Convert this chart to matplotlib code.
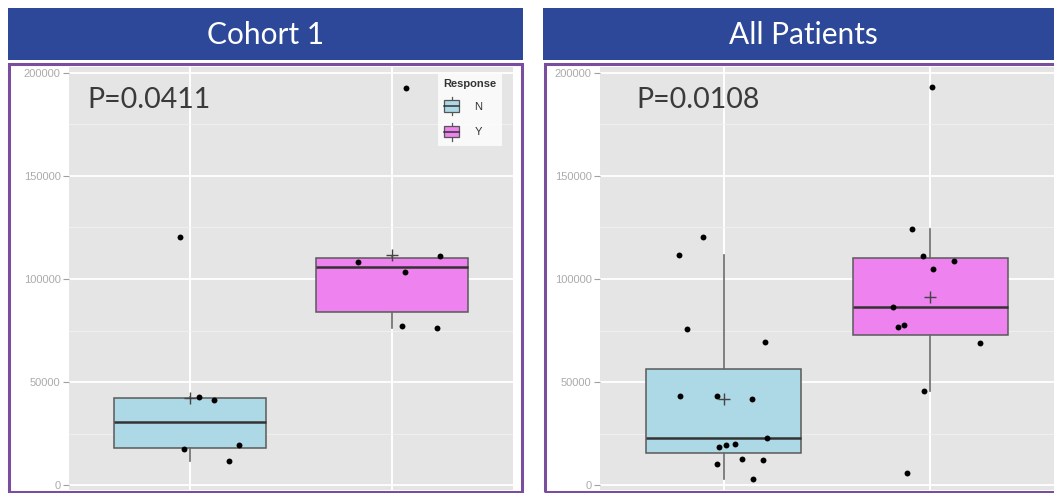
import matplotlib
matplotlib.use("Agg")
import matplotlib.pyplot as plt
import numpy as np
from matplotlib.patches import Rectangle
from matplotlib.lines import Line2D
from matplotlib.legend_handler import HandlerBase

# ---------------- data ----------------
groups = ["N", "Y"]
panel_titles = ["Cohort 1", "All Patients"]
p_values = ["P=0.0411", "P=0.0108"]
legend_title = "Response"
y_ticks = [0, 50000, 100000, 150000, 200000]

c1_N = [120400, 42950, 41500, 17430, 19520, 11620]
c1_N_jit = [-0.05, 0.045, 0.12, -0.03, 0.24, 0.195]
c1_Y = [192600, 111050, 108470, 103480, 77480, 76370]
c1_Y_jit = [0.07, 0.24, -0.17, 0.067, 0.05, 0.223]

all_N = [111800, 120500, 75650, 69700, 43560, 43560, 41770, 23080,
         18390, 19360, 20180, 12580, 12100, 10160, 3240]
all_N_jit = [-0.215, -0.103, -0.178, 0.199, -0.21, -0.032, 0.136, 0.21,
             -0.021, 0.011, 0.053, 0.086, 0.192, -0.034, 0.142]
all_Y = [192780, 124050, 111000, 108900, 104700, 86640, 76800, 77760,
         69200, 45980, 6150]
all_Y_jit = [0.008, -0.086, -0.034, 0.114, 0.015, -0.179, -0.155, -0.129,
             0.24, -0.031, -0.111]

box_colors = ["#ADD8E6", "#EE82EE"]
bar_color = "#2D4899"
frame_color = "#7A4E9E"
panel_bg = "#E5E5E5"

# ---------------- layout ----------------
W, H = 1054, 493
fig = plt.figure(figsize=(W / 100, H / 100), dpi=100)
fig.patch.set_facecolor("white")


def fx(px):
    return px / W


def fy(py):
    return 1 - py / H


def fig_rect(x0, y0, x1, y1, **kw):
    r = Rectangle((fx(x0), fy(y1)), fx(x1) - fx(x0), fy(y0) - fy(y1),
                  transform=fig.transFigure, **kw)
    fig.patches.append(r)


# title bars
fig_rect(8, 8, 523, 60, facecolor=bar_color, edgecolor="none")
fig_rect(543, 8, 1060, 60, facecolor=bar_color, edgecolor="none")
fig.text(fx(266), fy(35), panel_titles[0], color="white", fontsize=21.5,
         family="Lato", ha="center", va="center")
fig.text(fx(803), fy(35), panel_titles[1], color="white", fontsize=21.5,
         family="Lato", ha="center", va="center")


class BoxKeyHandler(HandlerBase):
    def create_artists(self, legend, orig_handle, xdescent, ydescent,
                       width, height, fontsize, trans):
        x0, y0 = -xdescent, -ydescent
        fc = orig_handle.get_facecolor()
        bw = width * 0.95
        bx = x0 + (width - bw) / 2
        by = y0 + height * 0.18
        bh = height * 0.64
        box = Rectangle((bx, by), bw, bh, facecolor=fc, edgecolor="#555555",
                        lw=0.9, transform=trans)
        cx = x0 + width / 2
        med = Line2D([bx, bx + bw], [by + bh / 2, by + bh / 2],
                     color="#333333", lw=1.1, transform=trans)
        w1 = Line2D([cx, cx], [y0, by], color="#555555", lw=0.9,
                    transform=trans)
        w2 = Line2D([cx, cx], [by + bh, y0 + height], color="#555555",
                    lw=0.9, transform=trans)
        return [w1, w2, box, med]


def draw_panel(ax_px, data, jitters, ptext, ptext_px, legend=False):
    x0, x1 = ax_px
    ax = fig.add_axes([fx(x0), fy(490), fx(x1) - fx(x0), fy(67) - fy(490)])
    ax.set_facecolor(panel_bg)
    ax.set_xlim(0.4, 2.6)
    ax.set_ylim(-2200, 202700)
    for s in ax.spines.values():
        s.set_visible(False)
    ax.set_yticks(y_ticks)
    ax.set_yticklabels([str(v) for v in y_ticks])
    ax.set_yticks([25000, 75000, 125000, 175000], minor=True)
    ax.set_xticks([1, 2])
    ax.tick_params(axis="x", length=0, labelbottom=False)
    ax.tick_params(axis="y", which="major", length=4, width=0.8,
                   color="#A0A0A0", labelcolor="#ABABAB", labelsize=8,
                   pad=2)
    ax.tick_params(axis="y", which="minor", length=0)
    for lbl in ax.get_yticklabels():
        lbl.set_family("Liberation Sans")
    ax.grid(True, which="major", color="white", lw=1.3)
    ax.grid(True, which="minor", axis="y", color="#F2F2F2", lw=0.6)
    ax.set_axisbelow(True)

    positions = [1, 2]
    bp = ax.boxplot(data, positions=positions, widths=0.75, patch_artist=True,
                    showfliers=False, showcaps=False, whis=1.5,
                    medianprops=dict(color="#333333", lw=1.8),
                    whiskerprops=dict(color="#6A6A6A", lw=1.2),
                    boxprops=dict(edgecolor="#5A5A5A", lw=1.1))
    for patch, c in zip(bp["boxes"], box_colors):
        patch.set_facecolor(c)
    for pos, vals, jit in zip(positions, data, jitters):
        ax.scatter(np.array(jit) + pos, vals, s=18, color="black", zorder=4,
                   linewidths=0)
        ax.plot([pos], [np.mean(vals)], marker="+", ms=8, mew=1.0,
                color="#444444", zorder=5)

    ax.text(fx(ptext_px[0]), fy(ptext_px[1]), ptext, transform=fig.transFigure,
            fontsize=20.5, family="Lato", color="#3A3A3A", ha="left",
            va="center")

    if legend:
        handles = [Rectangle((0, 0), 1, 1, facecolor=c) for c in box_colors]
        leg = ax.legend(handles, groups, title=legend_title,
                        loc="upper right", bbox_to_anchor=(0.975, 0.984),
                        handler_map={Rectangle: BoxKeyHandler()},
                        frameon=True, fancybox=False,
                        prop={"family": "Liberation Sans", "size": 8},
                        title_fontproperties={"family": "Liberation Sans",
                                              "size": 8,
                                              "weight": "bold"},
                        handlelength=1.5, handleheight=2.1,
                        handletextpad=1.3, borderpad=0.5,
                        labelspacing=0.7, borderaxespad=0.0,
                        alignment="left")
        leg.get_frame().set_facecolor("white")
        leg.get_frame().set_edgecolor("none")
        leg.get_title().set_color("#333333")
        for t in leg.get_texts():
            t.set_color("#333333")
    return ax


draw_panel((69, 513), [c1_N, c1_Y], [c1_N_jit, c1_Y_jit], p_values[0],
           (87, 100), legend=True)
draw_panel((600, 1054), [all_N, all_Y], [all_N_jit, all_Y_jit], p_values[1],
           (636, 100))

# purple frames
fig_rect(8.5, 63.5, 521.5, 491.5, facecolor="none", edgecolor=frame_color,
         lw=2.2, zorder=10)
fig_rect(544.5, 63.5, 1070, 491.5, facecolor="none", edgecolor=frame_color,
         lw=2.2, zorder=10)

fig.savefig("out.png", dpi=100)
